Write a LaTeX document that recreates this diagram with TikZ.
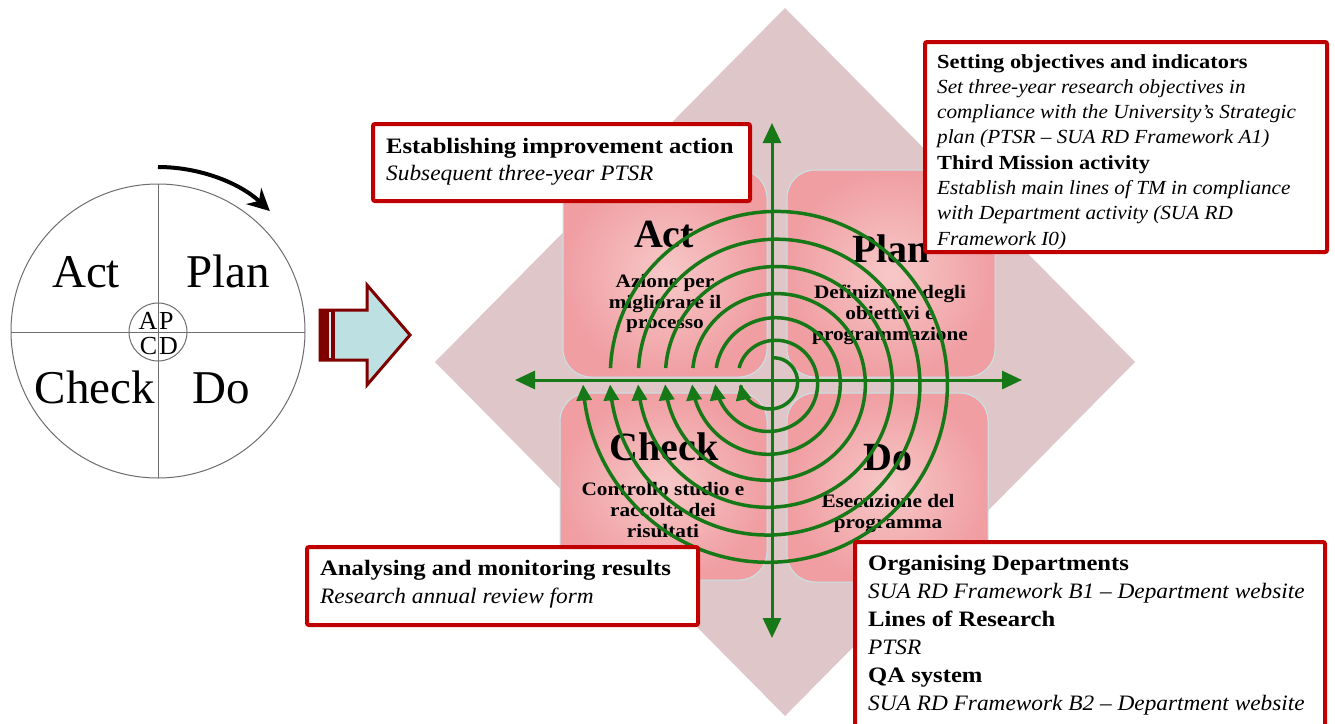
\documentclass[tikz,border=0pt]{standalone}
\usepackage{fontspec}
\setmainfont{Liberation Serif}[BoldFeatures={FakeStretch=1.12},ItalicFeatures={FakeStretch=1.06}]
\newfontfamily\tms{Liberation Serif}
\usetikzlibrary{arrows.meta}
\definecolor{diam}{RGB}{223,199,201}
\definecolor{qin}{RGB}{247,200,200}
\definecolor{qout}{RGB}{240,158,162}
\definecolor{qedge}{RGB}{200,228,230}
\definecolor{grn}{RGB}{22,120,22}
\definecolor{boxred}{RGB}{192,0,0}
\definecolor{arrfill}{RGB}{189,224,227}
\definecolor{arredge}{RGB}{128,0,0}
\definecolor{cgray}{RGB}{110,110,110}
\tikzset{
 quad/.style={rounded corners=28pt, inner color=qin, outer color=qout, draw=qedge, line width=1pt},
 tbox/.style={draw=boxred, line width=4pt, fill=white, rounded corners=2pt},
 bt/.style={anchor=base west, inner sep=0pt, font=\bfseries\fontsize{22}{27}\selectfont},
 it/.style={anchor=base west, inner sep=0pt, font=\itshape\fontsize{22}{27}\selectfont},
 bts/.style={anchor=base west, inner sep=0pt, font=\bfseries\fontsize{20}{25}\selectfont},
 its/.style={anchor=base west, inner sep=0pt, font=\itshape\fontsize{20}{25}\selectfont},
 axisline/.style={draw=grn, line width=3pt, {Triangle[length=20pt,width=18pt]}-{Triangle[length=20pt,width=18pt]}},
 spir/.style={draw=grn, line width=3.5pt, -{Triangle[length=16pt,width=15pt]}},
 qbig/.style={anchor=base, inner sep=0pt, font=\tms\bfseries\fontsize{40}{44}\selectfont},
 qsmall/.style={anchor=base, inner sep=0pt, font=\bfseries\fontsize{19}{21}\selectfont},
 pbig/.style={anchor=base, inner sep=0pt, font=\tms\fontsize{47}{50}\selectfont},
 pse/.style={anchor=base east, inner sep=0pt, font=\tms\fontsize{26}{26}\selectfont},
 psw/.style={anchor=base west, inner sep=0pt, font=\tms\fontsize{26}{26}\selectfont},
}
\begin{document}
\begin{tikzpicture}[x=1pt,y=-1pt]
\useasboundingbox (0,0) rectangle (1335,723);
\clip (0,0) rectangle (1335,723);
\fill[white] (0,0) rectangle (1335,723);
% ---------- left PDCA wheel ----------
\draw[cgray, line width=1pt] (158,331) circle[radius=147];
\draw[cgray, line width=1pt] (158,184) -- (158,478);
\draw[cgray, line width=1pt] (11,332) -- (305,332);
\draw[cgray, line width=1pt] (158,332) circle[radius=29];
\node[pbig] (wact) at (86,287) {Act};
\node[pbig] (wplan) at (228,287) {Plan};
\node[pbig] (wcheck) at (95,403) {Check};
\node[pbig] (wdo) at (221,403) {Do};
\node[pse] (wa) at (157.5,329) {A};
\node[psw] (wp) at (159,329) {P};
\node[pse] (wc) at (157.5,354) {C};
\node[psw] (wd) at (159,354) {D};
\draw[black, line width=4pt, -{Stealth[length=22pt,width=22pt]}] (158,167) arc[start angle=-90, end angle=-47, radius=164];
% ---------- block arrow ----------
\draw[arredge, line width=3pt, fill=arrfill, line join=miter] (320,310) -- (367,310) -- (367,285) -- (410,335) -- (367,385) -- (367,360) -- (320,360) -- cycle;
\fill[arredge] (320,310) rectangle (335,360);
\draw[arrfill!60!white, line width=1.5pt] (330,312) -- (330,358);
% ---------- diamond ----------
\fill[diam] (785,8) -- (1135,362) -- (785,716) -- (435,362) -- cycle;
% ---------- quadrants ----------
\shade[quad] (563,170) rectangle (767,377);
\shade[quad] (787,170) rectangle (995,377);
\shade[quad] (560,393) rectangle (767,580);
\shade[quad] (787,393) rectangle (988,582);
\node[qbig] (qact) at (664,247) {Act};
\node[qsmall] (qact1) at (665,287) {Azione per};
\node[qsmall] (qact2) at (665,308) {migliorare il};
\node[qsmall] (qact3) at (665,328) {processo};
\node[qbig] (qplan) at (891,262) {Plan};
\node[qsmall] (qplan1) at (890,298) {Definizione degli};
\node[qsmall] (qplan2) at (890,319) {obiettivi e};
\node[qsmall] (qplan3) at (890,340) {programmazione};
\node[qbig] (qcheck) at (664,460) {Check};
\node[qsmall] (qcheck1) at (663,495) {Controllo studio e};
\node[qsmall] (qcheck2) at (663,516) {raccolta dei};
\node[qsmall] (qcheck3) at (663,537) {risultati};
\node[qbig] (qdo) at (888,470) {Do};
\node[qsmall] (qdo1) at (888,507) {Esecuzione del};
\node[qsmall] (qdo2) at (888,528) {programma};
% ---------- axes ----------
\coordinate (axl) at (515,380);
\coordinate (axr) at (1022,380);
\coordinate (axt) at (772,123);
\coordinate (axb) at (772,638);
\draw[axisline] (axl) -- (axr);
\draw[axisline] (axt) -- (axb);
% ---------- spiral ----------
\foreach \ra/\rb/\aa/\ab in {22/32/90/-172.8, 35/57/160/-176, 57/80/167.8/-177.1, 80/107/171.4/-177.9, 107/134/173.6/-178.3, 134/162/174.9/-178.6, 162/189/175.8/-178.8}{
  \draw[spir] plot[domain=0:1, samples=90, variable=\t, smooth]
   ({772+(\ra+(\rb-\ra)*\t)*cos(\aa+(\ab-\aa)*\t)}, {380-(\ra+(\rb-\ra)*\t)*sin(\aa+(\ab-\aa)*\t)});
}
% ---------- text boxes ----------
\draw[tbox] (373,124) rectangle (750,201);
\node[bt] (b1a) at (386,153) {Establishing improvement action};
\node[it] (b1b) at (386,180) {Subsequent three-year PTSR};

\draw[tbox] (925,42) rectangle (1327,252);
\node[bts] (b2a) at (937,68) {Setting objectives and indicators};
\node[its] (b2b) at (937,93.3) {Set three-year research objectives in};
\node[its] (b2c) at (937,118.6) {compliance with the University’s Strategic};
\node[its] (b2d) at (937,143.9) {plan (PTSR – SUA RD Framework A1)};
\node[bts] (b2e) at (937,169.2) {Third Mission activity};
\node[its] (b2f) at (937,194.5) {Establish main lines of TM in compliance};
\node[its] (b2g) at (937,219.8) {with Department activity (SUA RD};
\node[its] (b2h) at (937,245.1) {Framework I0)};

\draw[tbox] (307,547) rectangle (698,625);
\node[bt] (b3a) at (320,575) {Analysing and monitoring results};
\node[it] (b3b) at (320,603) {Research annual review form};

\draw[tbox] (855,542) rectangle (1325,760);
\node[bt] (b4a) at (868,570) {Organising Departments};
\node[it] (b4b) at (868,598) {SUA RD Framework B1 – Department website};
\node[bt] (b4c) at (868,626) {Lines of Research};
\node[it] (b4d) at (868,654) {PTSR};
\node[bt] (b4e) at (868,682) {QA system};
\node[it] (b4f) at (868,710) {SUA RD Framework B2 – Department website};
\end{tikzpicture}
\end{document}
